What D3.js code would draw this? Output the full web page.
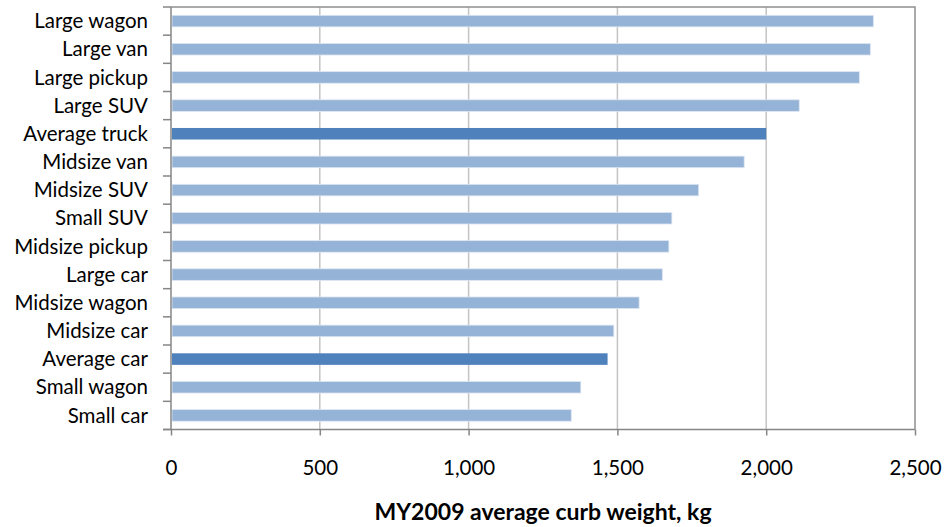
<!DOCTYPE html>
<html>
<head>
<meta charset="utf-8">
<script src="https://cdn.jsdelivr.net/npm/d3@7"></script>
<style>
  body { margin: 0; background: #fff; }
  #grafico { width: 945px; height: 527px; }
  .lbl { font-family: Lato, "Open Sans", sans-serif; font-size: 20.5px; fill: #000; }
</style>
</head>
<body>
<div id="grafico"></div>
<script>
// categories from top to bottom
var categorias = ["Large wagon", "Large van", "Large pickup", "Large SUV", "Average truck",
  "Midsize van", "Midsize SUV", "Small SUV", "Midsize pickup", "Large car",
  "Midsize wagon", "Midsize car", "Average car", "Small wagon", "Small car"];
var pesos = [2360, 2350, 2313, 2111, 2000, 1926, 1773, 1683, 1673, 1651, 1573, 1488, 1467, 1377, 1345];
var medias = ["Average truck", "Average car"];
var ticksX = [0, 500, 1000, 1500, 2000, 2500];
var tituloX = "MY2009 average curb weight, kg";

var data = categorias.map(function(c, i) { return {nome: c, valor: pesos[i]}; });

var margin = {top: 7, right: 30, bottom: 97.5, left: 171},
    width = 945 - margin.left - margin.right,
    height = 527 - margin.top - margin.bottom;

var svg = d3.select("#grafico").append("svg")
    .attr("width", 945)
    .attr("height", 527)
  .append("g")
    .attr("transform", "translate(" + margin.left + "," + margin.top + ")");

var x = d3.scaleLinear().domain([0, 2500]).range([0, width]);
var y = d3.scaleBand().domain(categorias).range([0, height])
    .paddingInner(0.59).paddingOuter(0.295);

// vertical gridlines
svg.append("g")
  .selectAll("line")
  .data(ticksX.slice(1, -1))
  .enter().append("line")
    .attr("x1", function(d) { return x(d); })
    .attr("x2", function(d) { return x(d); })
    .attr("y1", 0)
    .attr("y2", height)
    .style("stroke", "#c4c4c4")
    .style("stroke-width", 1.5);

// top and right frame
svg.append("path")
  .attr("d", "M0,0H" + width + "V" + height)
  .style("fill", "none")
  .style("stroke", "#8e8e8e")
  .style("stroke-width", 1.5);

// bars
svg.append("g")
  .selectAll("rect")
  .data(data)
  .enter().append("rect")
    .attr("x", x(0) + 1)
    .attr("y", function(d) { return y(d.nome); })
    .attr("width", function(d) { return x(d.valor) - x(0) - 1; })
    .attr("height", y.bandwidth())
    .style("fill", function(d) { return medias.indexOf(d.nome) >= 0 ? "#4f81bd" : "#95b3d7"; })
    .style("stroke", function(d) { return medias.indexOf(d.nome) >= 0 ? "none" : "#dce6f2"; })
    .style("stroke-width", 0.8);

// left axis: ticks on category boundaries
var step = y.step();
var limites = d3.range(categorias.length + 1).map(function(i) { return i * step; });
var eixoY = svg.append("g");
eixoY.append("line")
  .attr("x1", 0).attr("x2", 0).attr("y1", 0).attr("y2", height)
  .style("stroke", "#868686").style("stroke-width", 1.5);
eixoY.selectAll(".tk")
  .data(limites)
  .enter().append("line")
    .attr("x1", -8).attr("x2", 0)
    .attr("y1", function(d) { return d; })
    .attr("y2", function(d) { return d; })
    .style("stroke", "#868686").style("stroke-width", 1.5);
eixoY.selectAll("text")
  .data(categorias)
  .enter().append("text")
    .attr("class", "lbl")
    .attr("x", -23)
    .attr("y", function(d) { return y(d) + y.bandwidth() / 2; })
    .attr("dy", "0.35em")
    .style("text-anchor", "end")
    .text(function(d) { return d; });

// bottom axis
var eixoX = svg.append("g")
  .attr("transform", "translate(0," + height + ")")
  .call(d3.axisBottom(x).tickValues(ticksX).tickSize(6).tickSizeOuter(0)
        .tickFormat(d3.format(",")));
eixoX.select(".domain").style("stroke", "#868686").style("stroke-width", 1.5)
  .attr("d", "M-8,0H" + width);
eixoX.selectAll(".tick line").style("stroke", "#868686").style("stroke-width", 1.5);
eixoX.selectAll(".tick text")
  .attr("class", "lbl")
  .attr("y", 45.5)
  .attr("dy", 0);

svg.append("text")
  .attr("class", "lbl")
  .attr("x", width / 2)
  .attr("y", height + 90)
  .style("text-anchor", "middle")
  .style("font-weight", "bold")
  .style("font-size", "23px")
  .text(tituloX);
</script>
</body>
</html>
